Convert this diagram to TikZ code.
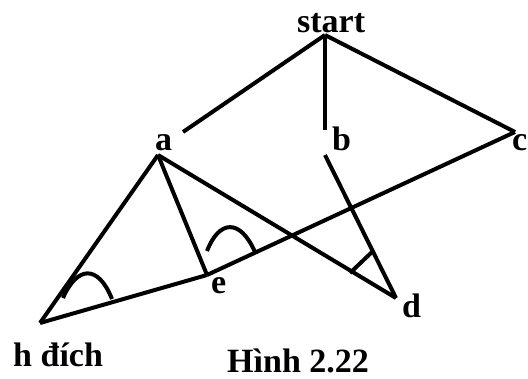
\documentclass[tikz,border=0pt]{standalone}
\usepackage{fontspec}
\setmainfont{Liberation Serif}
\begin{document}
\begin{tikzpicture}[x=1pt,y=-1pt,
  lbl/.style={font=\fontsize{34}{40}\selectfont\bfseries, inner sep=0pt, anchor=base west},
  edge/.style={line width=4pt, line cap=butt},
  anglemark/.style={line width=4pt}]
\useasboundingbox (0,0) rectangle (528,378);
% labels
\node[lbl] (start) at (297,32) {start};
\node[lbl] (la) at (155,150) {a};
\node[lbl] (lb) at (332,150) {b};
\node[lbl] (lc) at (512,150) {c};
\node[lbl] (le) at (211,293) {e};
\node[lbl] (ld) at (402,317) {d};
\node[lbl] (lh) at (13,366) {h đích};
\node[lbl] (cap) at (227,372) {Hình 2.22};
% vertices
\coordinate (s) at (325,35);
\coordinate (sa) at (183,132);
\coordinate (sb) at (325,130);
\coordinate (c) at (515,132);
\coordinate (a) at (158,155);
\coordinate (b) at (325,155);
\coordinate (e) at (207,275);
\coordinate (d) at (396,298);
\coordinate (h) at (40,323);
% edges
\draw[edge] (s) -- (sa);
\draw[edge] (s) -- (sb);
\draw[edge] (s) -- (c);
\draw[edge] (a) -- (h);
\draw[edge] (a) -- (e);
\draw[edge] (a) -- (d);
\draw[edge] (h) -- (e);
\draw[edge] (e) -- (c);
\draw[edge] (b) -- (d);
% angle marks
\draw[anglemark] (63,298) .. controls (77,266) and (98,264) .. (112,299);
\draw[anglemark] (207,251) .. controls (219,220) and (240,218) .. (255,252);
\draw[anglemark] (350,273) -- (372,252);
\end{tikzpicture}
\end{document}
